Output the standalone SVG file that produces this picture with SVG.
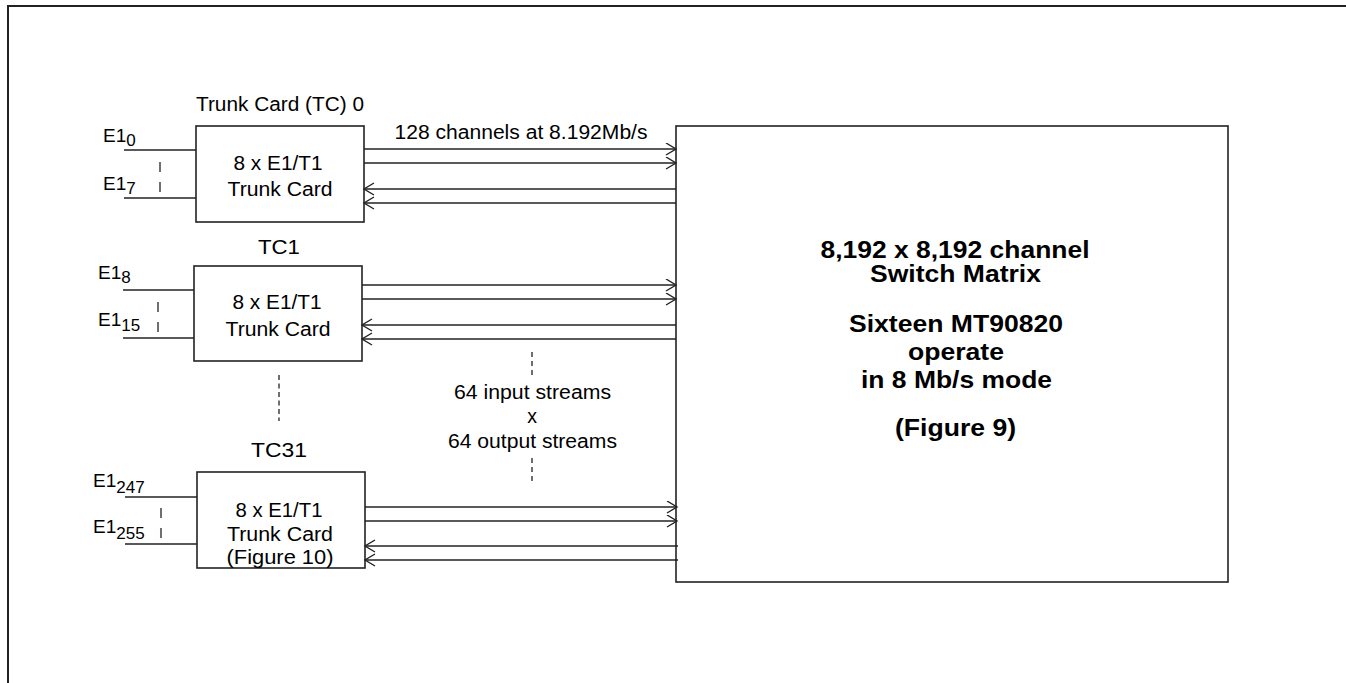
<svg xmlns="http://www.w3.org/2000/svg" width="1346" height="683" viewBox="0 0 1346 683">
<style>
text{font-family:"Liberation Sans",Arial,sans-serif;fill:#000}
.t{font-size:19.5px}
.tc{font-size:21px}
.e{font-size:19px}
.s{font-size:17px}
.b{font-size:23.5px;font-weight:bold}
.box{fill:#fff;stroke:#222;stroke-width:1.6}
.ln{stroke:#222;stroke-width:1.4;fill:none}
.dash{stroke:#333;stroke-width:1.4;fill:none}
</style>
<defs>
<marker id="ah" markerUnits="userSpaceOnUse" markerWidth="14" markerHeight="14" refX="11" refY="6.5" orient="auto">
<path d="M1,0.5 L11,6.5 L1,12.5" fill="none" stroke="#222" stroke-width="1.4"/>
</marker>
</defs>
<path d="M8,683 V6 H1346" fill="none" stroke="#222" stroke-width="2"/>

<g id="tc0">
<text class="t" x="280" y="111" text-anchor="middle" textLength="168" lengthAdjust="spacingAndGlyphs">Trunk Card (TC) 0</text>
<rect class="box" x="196" y="126" width="168" height="96"/>
<text class="t" x="278" y="170" text-anchor="middle" textLength="89" lengthAdjust="spacingAndGlyphs">8 x E1/T1</text>
<text class="t" x="280" y="196" text-anchor="middle" textLength="105" lengthAdjust="spacingAndGlyphs">Trunk Card</text>
</g>
<g id="tc0-inputs">
<text class="e" x="103" y="142">E1<tspan class="s" dy="4">0</tspan></text>
<text class="e" x="103" y="190">E1<tspan class="s" dy="4">7</tspan></text>
<line class="ln" x1="124" y1="150" x2="196" y2="150"/>
<line class="ln" x1="124" y1="198" x2="196" y2="198"/>
<line class="dash" x1="160" y1="162" x2="160" y2="193" stroke-dasharray="10 10"/>
</g>

<g id="tc1">
<text class="tc" x="279" y="254" text-anchor="middle" textLength="42" lengthAdjust="spacingAndGlyphs">TC1</text>
<rect class="box" x="194" y="266" width="168" height="95"/>
<text class="t" x="277" y="309" text-anchor="middle" textLength="89" lengthAdjust="spacingAndGlyphs">8 x E1/T1</text>
<text class="t" x="278" y="336" text-anchor="middle" textLength="105" lengthAdjust="spacingAndGlyphs">Trunk Card</text>
</g>
<g id="tc1-inputs">
<text class="e" x="98" y="279">E1<tspan class="s" dy="4">8</tspan></text>
<text class="e" x="98" y="326">E1<tspan class="s" dy="5">15</tspan></text>
<line class="ln" x1="123" y1="290" x2="194" y2="290"/>
<line class="ln" x1="123" y1="338" x2="194" y2="338"/>
<line class="dash" x1="158" y1="302" x2="158" y2="333" stroke-dasharray="10 10"/>
</g>

<g id="tc31">
<text class="tc" x="279" y="457" text-anchor="middle" textLength="56" lengthAdjust="spacingAndGlyphs">TC31</text>
<rect class="box" x="197" y="472" width="168" height="96"/>
<text class="t" x="279" y="517" text-anchor="middle" textLength="87" lengthAdjust="spacingAndGlyphs">8 x E1/T1</text>
<text class="t" x="280" y="541" text-anchor="middle" textLength="106" lengthAdjust="spacingAndGlyphs">Trunk Card</text>
<text class="t" x="280" y="564" text-anchor="middle" textLength="107" lengthAdjust="spacingAndGlyphs">(Figure 10)</text>
</g>
<g id="tc31-inputs">
<text class="e" x="93" y="487">E1<tspan class="s" dy="6">247</tspan></text>
<text class="e" x="93" y="533">E1<tspan class="s" dy="6">255</tspan></text>
<line class="ln" x1="125" y1="497" x2="197" y2="497"/>
<line class="ln" x1="125" y1="544" x2="197" y2="544"/>
<line class="dash" x1="161" y1="508" x2="161" y2="540" stroke-dasharray="10 10"/>
</g>

<g id="switch">
<rect class="box" x="676" y="126" width="552" height="456"/>
<text class="b" x="955" y="258" text-anchor="middle" textLength="269" lengthAdjust="spacingAndGlyphs">8,192 x 8,192 channel</text>
<text class="b" x="955.5" y="282" text-anchor="middle" textLength="171" lengthAdjust="spacingAndGlyphs">Switch Matrix</text>
<text class="b" x="956" y="332" text-anchor="middle" textLength="214" lengthAdjust="spacingAndGlyphs">Sixteen MT90820</text>
<text class="b" x="956" y="360" text-anchor="middle" textLength="96" lengthAdjust="spacingAndGlyphs">operate</text>
<text class="b" x="956.5" y="388" text-anchor="middle" textLength="191" lengthAdjust="spacingAndGlyphs">in 8 Mb/s mode</text>
<text class="b" x="955.5" y="436" text-anchor="middle" textLength="121" lengthAdjust="spacingAndGlyphs">(Figure 9)</text>
</g>

<g id="connectors">
<text class="t" x="521" y="139" text-anchor="middle" textLength="253" lengthAdjust="spacingAndGlyphs">128 channels at 8.192Mb/s</text>
<line class="ln" x1="364" y1="149" x2="676" y2="149" marker-end="url(#ah)"/>
<line class="ln" x1="364" y1="163" x2="676" y2="163" marker-end="url(#ah)"/>
<line class="ln" x1="676" y1="189" x2="364" y2="189" marker-end="url(#ah)"/>
<line class="ln" x1="676" y1="203" x2="364" y2="203" marker-end="url(#ah)"/>

<line class="ln" x1="362" y1="285" x2="676" y2="285" marker-end="url(#ah)"/>
<line class="ln" x1="362" y1="299" x2="676" y2="299" marker-end="url(#ah)"/>
<line class="ln" x1="676" y1="325" x2="362" y2="325" marker-end="url(#ah)"/>
<line class="ln" x1="676" y1="339" x2="362" y2="339" marker-end="url(#ah)"/>

<line class="ln" x1="365" y1="507" x2="677" y2="507" marker-end="url(#ah)"/>
<line class="ln" x1="365" y1="521" x2="677" y2="521" marker-end="url(#ah)"/>
<line class="ln" x1="678" y1="546" x2="365" y2="546" marker-end="url(#ah)"/>
<line class="ln" x1="678" y1="560" x2="365" y2="560" marker-end="url(#ah)"/>

<line class="dash" x1="279" y1="375" x2="279" y2="421" stroke-dasharray="5 3.5"/>
<line class="dash" x1="532" y1="352" x2="532" y2="377" stroke-dasharray="5 4"/>
<line class="dash" x1="532" y1="458" x2="532" y2="485" stroke-dasharray="5 4"/>
<text class="t" x="532.5" y="399" text-anchor="middle" textLength="157" lengthAdjust="spacingAndGlyphs">64 input streams</text>
<text class="t" x="532" y="423" text-anchor="middle">x</text>
<text class="t" x="532.5" y="448" text-anchor="middle" textLength="169" lengthAdjust="spacingAndGlyphs">64 output streams</text>
</g>
</svg>
